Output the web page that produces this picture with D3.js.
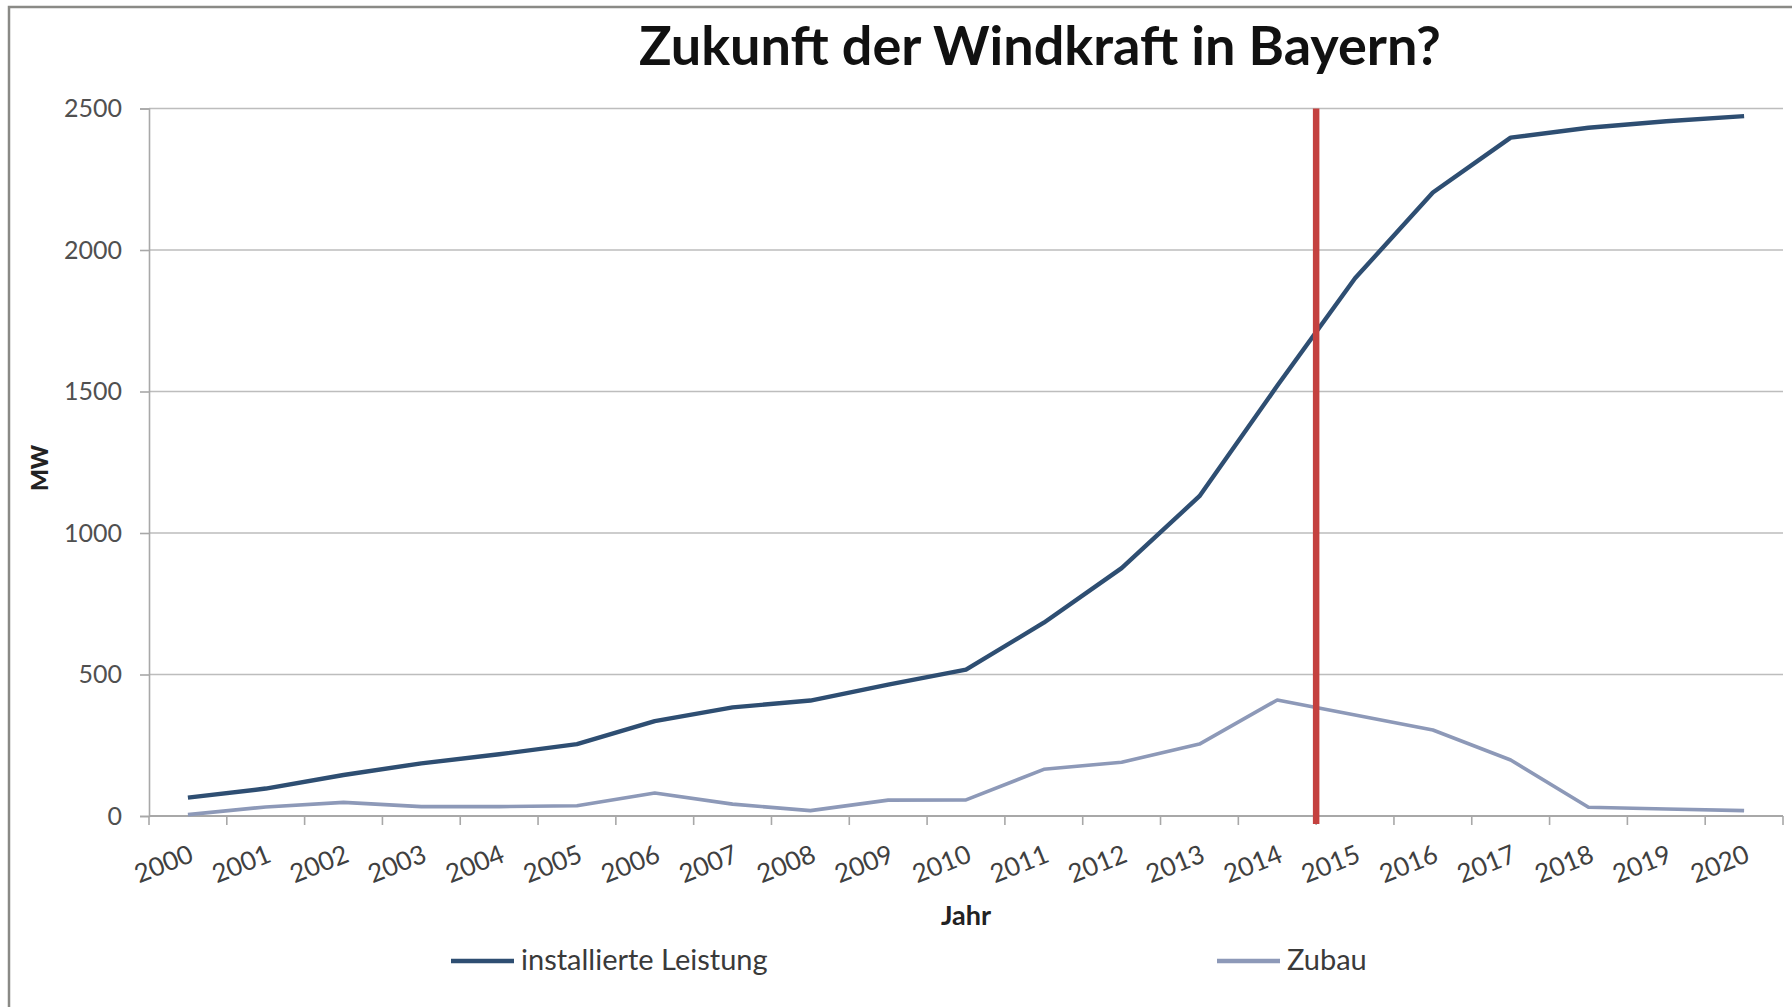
<!DOCTYPE html>
<html>
<head>
<meta charset="utf-8">
<script src="https://cdn.jsdelivr.net/npm/d3@7"></script>
<style>
  body { margin: 0; background: #fff; }
  text { font-family: Lato, "Open Sans", sans-serif; }
</style>
</head>
<body>
<svg id="chart" width="1792" height="1007"></svg>
<script>
// Jahre auf der x-Achse
var years = ['2000','2001','2002','2003','2004','2005','2006','2007','2008','2009','2010',
             '2011','2012','2013','2014','2015','2016','2017','2018','2019','2020'];
// installierte Leistung in MW
var installiert = [65, 97, 145, 186, 218, 254, 335, 384, 408, 464, 517,
                   683, 876, 1130, 1520, 1900, 2203, 2397, 2432, 2455, 2473];
// Zubau in MW
var zubau = [5, 32, 48, 33, 33, 36, 81, 42, 19, 56, 57,
             165, 190, 254, 410, 357, 304, 198, 31, 25, 19];
var yTicks = [0, 500, 1000, 1500, 2000, 2500];
var markYear = '2015';

var svg = d3.select('#chart');

var plotLeft = 149, plotRight = 1783, plotTop = 108.5, plotBottom = 816;

var x = d3.scaleBand().domain(years).range([plotLeft, plotRight]);
var y = d3.scaleLinear().domain([0, 2500]).range([plotBottom, plotTop]);

// frame
svg.append('path')
  .attr('d', 'M9,1010 L9,7 L1800,7')
  .attr('fill', 'none')
  .attr('stroke', '#8a8a86')
  .attr('stroke-width', 2.5);

// title
svg.append('text')
  .attr('x', 1040).attr('y', 65)
  .attr('text-anchor', 'middle')
  .attr('font-size', 54)
  .attr('font-weight', 'bold')
  .attr('fill', '#111')
  .text('Zukunft der Windkraft in Bayern?');

// gridlines
svg.append('g').selectAll('line')
  .data(yTicks.slice(1))
  .enter().append('line')
  .attr('x1', plotLeft).attr('x2', plotRight)
  .attr('y1', function (d) { return y(d); })
  .attr('y2', function (d) { return y(d); })
  .attr('stroke', '#bdbdbd')
  .attr('stroke-width', 1.6);

// y axis
var yAxis = svg.append('g')
  .attr('transform', 'translate(' + plotLeft + ',0)')
  .call(d3.axisLeft(y).tickValues(yTicks).tickFormat(d3.format('d')).tickSize(9).tickPadding(18));
yAxis.select('.domain').attr('stroke', '#a8a8a8').attr('stroke-width', 1.6);
yAxis.selectAll('line').attr('stroke', '#a8a8a8').attr('stroke-width', 1.6);
yAxis.selectAll('text')
  .attr('font-size', 25)
  .attr('fill', '#505050')
  .style('font-family', 'Lato, sans-serif');

// x axis: ticks at category boundaries
var xAxisG = svg.append('g');
xAxisG.append('line')
  .attr('x1', plotLeft).attr('x2', plotRight)
  .attr('y1', plotBottom).attr('y2', plotBottom)
  .attr('stroke', '#a8a8a8').attr('stroke-width', 1.8);
xAxisG.selectAll('line.tk')
  .data(years.concat(['end']))
  .enter().append('line')
  .attr('class', 'tk')
  .attr('x1', function (d, i) { return plotLeft + i * x.bandwidth(); })
  .attr('x2', function (d, i) { return plotLeft + i * x.bandwidth(); })
  .attr('y1', plotBottom).attr('y2', plotBottom + 9)
  .attr('stroke', '#a8a8a8').attr('stroke-width', 1.6);
xAxisG.selectAll('text')
  .data(years)
  .enter().append('text')
  .attr('transform', function (d) {
    return 'translate(' + (x(d) + x.bandwidth() / 2 + 7) + ',' + (plotBottom + 45) + ') rotate(-22)';
  })
  .attr('text-anchor', 'end')
  .attr('font-size', 26)
  .attr('fill', '#404040')
  .text(function (d) { return d; });

// axis titles
svg.append('text')
  .attr('x', 966).attr('y', 925)
  .attr('text-anchor', 'middle')
  .attr('font-size', 27).attr('font-weight', 'bold')
  .attr('fill', '#222')
  .text('Jahr');
svg.append('text')
  .attr('transform', 'translate(48,468) rotate(-90)')
  .attr('text-anchor', 'middle')
  .attr('font-size', 23).attr('font-weight', 900)
  .attr('fill', '#222')
  .text('MW');

var line = function (vals) {
  return d3.line()
    .x(function (d, i) { return x(years[i]) + x.bandwidth() / 2; })
    .y(function (d) { return y(d); })(vals);
};

svg.append('path')
  .attr('d', line(zubau))
  .attr('fill', 'none')
  .attr('stroke', '#8d99b8')
  .attr('stroke-width', 3.6)
  .attr('stroke-linejoin', 'round');

svg.append('path')
  .attr('d', line(installiert))
  .attr('fill', 'none')
  .attr('stroke', '#2e4e72')
  .attr('stroke-width', 4.4)
  .attr('stroke-linejoin', 'round');

// rote Markierung
svg.append('line')
  .attr('x1', x(markYear)).attr('x2', x(markYear))
  .attr('y1', plotTop).attr('y2', plotBottom + 8)
  .attr('stroke', '#c4413f')
  .attr('stroke-width', 6.5);

// legend
var legend = [
  { name: 'installierte Leistung', color: '#2e4e72', x: 451 },
  { name: 'Zubau', color: '#8d99b8', x: 1217 }
];
var lg = svg.append('g').selectAll('g')
  .data(legend)
  .enter().append('g')
  .attr('transform', function (d) { return 'translate(' + d.x + ',961)'; });
lg.append('line')
  .attr('x1', 0).attr('x2', 63)
  .attr('stroke', function (d) { return d.color; })
  .attr('stroke-width', 4.4);
lg.append('text')
  .attr('x', 70).attr('y', 9)
  .attr('font-size', 29)
  .attr('fill', '#3a3a3a')
  .text(function (d) { return d.name; });
</script>
</body>
</html>
